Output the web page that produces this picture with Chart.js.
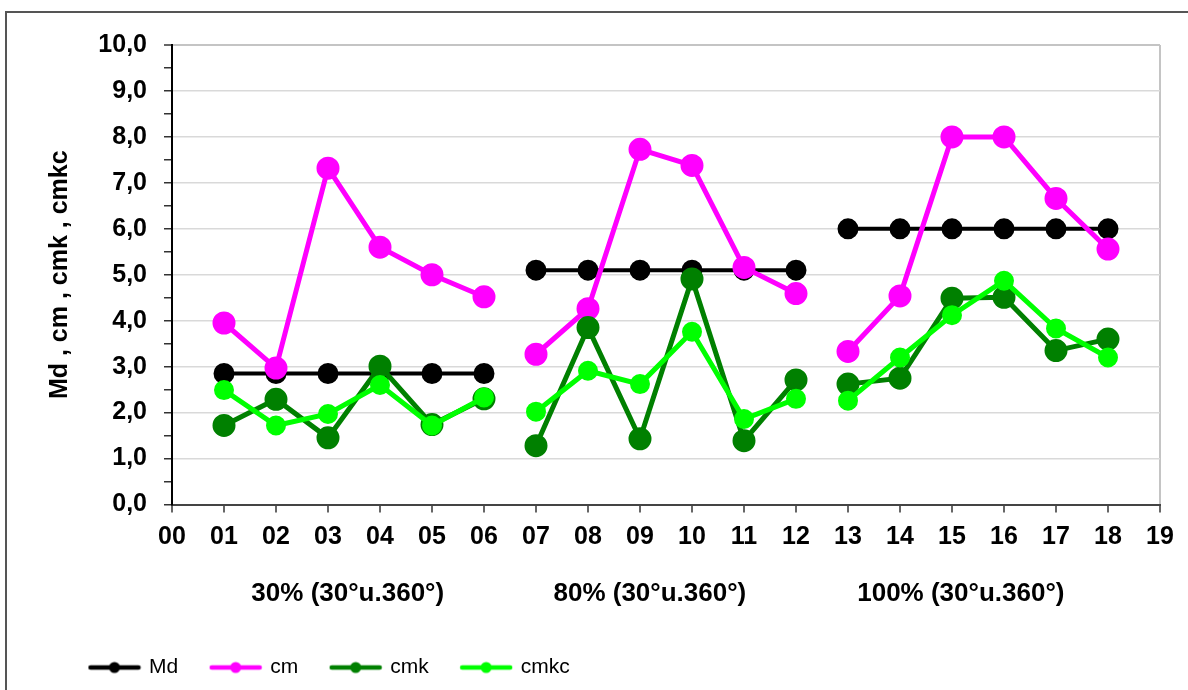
<!DOCTYPE html>
<html>
<head>
<meta charset="utf-8">
<script src="https://cdn.jsdelivr.net/npm/chart.js@4.4.0/dist/chart.umd.min.js"></script>
<style>
  body { margin: 0; background: #fff; }
  #frame { position: absolute; left: 5px; top: 11px; width: 1300px; height: 800px;
           border-top: 2px solid #555; border-left: 2px solid #555; }
  #wrap { position: absolute; left: 0; top: 0; width: 1188px; height: 690px; }
</style>
</head>
<body>
<div id="frame"></div>
<div id="wrap"><canvas id="chart"></canvas></div>
<script>
// tick labels of the x axis (00 .. 19)
var categories = ['00','01','02','03','04','05','06','07','08','09','10',
                  '11','12','13','14','15','16','17','18','19'];

// values for 01 .. 18
var md   = [2.85, 2.85, 2.85, 2.85, 2.85, 2.85, 5.1, 5.1, 5.1, 5.1, 5.1, 5.1, 6.0, 6.0, 6.0, 6.0, 6.0, 6.0];
var cm   = [3.95, 2.97, 7.32, 5.6, 5.0, 4.52, 3.27, 4.26, 7.73, 7.38, 5.16, 4.59, 3.33, 4.54, 8.0, 8.0, 6.66, 5.56];
var cmk  = [1.72, 2.29, 1.45, 3.01, 1.74, 2.3, 1.28, 3.85, 1.43, 4.91, 1.39, 2.71, 2.62, 2.75, 4.49, 4.51, 3.35, 3.6];
var cmkc = [2.49, 1.72, 1.97, 2.6, 1.72, 2.33, 2.02, 2.91, 2.62, 3.76, 1.86, 2.3, 2.26, 3.2, 4.12, 4.87, 3.83, 3.2];

var groupLabels  = ['30% (30°u.360°)', '80% (30°u.360°)', '100% (30°u.360°)'];
var groupCenters = [3.38, 9.19, 15.17];
var groupBreaks  = [6, 12];   // no line from 06 to 07 and from 12 to 13

var FONT = "'Liberation Sans', Arial, sans-serif";

// put the 18 values on positions 01..18, nothing on 00 and 19
const pad = (vals) => [null].concat(vals, [null]);

const legendIcon = (color, r) => {
    var c = document.createElement('canvas');
    c.width = 54; c.height = 20;
    var g = c.getContext('2d');
    g.strokeStyle = color; g.lineWidth = 4.5; g.lineCap = 'round';
    g.beginPath(); g.moveTo(3, 10); g.lineTo(51, 10); g.stroke();
    g.fillStyle = color;
    g.beginPath(); g.arc(27, 10, r, 0, Math.PI * 2); g.fill();
    return c;
}

const makeSet = (label, data, color, radius, width, order) => {
    return {
        label: label,
        data: pad(data),
        borderColor: color,
        backgroundColor: color,
        pointBackgroundColor: color,
        pointBorderColor: color,
        pointRadius: radius,
        pointHoverRadius: radius,
        borderWidth: width,
        order: order,
        spanGaps: false,
        segment: {
            borderColor: ctx => groupBreaks.includes(ctx.p0DataIndex) ? 'transparent' : color
        },
        icon: legendIcon(color, 5.5)
    }
}

const groupTitles = {
    id: 'groupTitles',
    afterDraw(chart) {
        var x = chart.scales.x;
        var c = chart.ctx;
        c.save();
        c.font = 'bold 26px ' + FONT;
        c.fillStyle = '#000';
        c.textAlign = 'center';
        c.textBaseline = 'middle';
        groupLabels.forEach(function (txt, i) {
            c.fillText(txt, x.getPixelForValue(groupCenters[i]), chart.chartArea.bottom + 89);
        });
        c.restore();
    }
}

new Chart(document.getElementById('chart'), {
    type: 'line',
    data: {
        labels: categories,
        datasets: [
            makeSet('Md', md, '#000000', 8.5, 4, 4),
            makeSet('cm', cm, '#FF00FF', 9, 5, 3),
            makeSet('cmk', cmk, '#008000', 9, 5, 2),
            makeSet('cmkc', cmkc, '#00FF00', 7.5, 5, 1)
        ]
    },
    plugins: [groupTitles],
    options: {
        responsive: true,
        maintainAspectRatio: false,
        animation: false,
        layout: { padding: { left: 57, right: 28, top: 45, bottom: 2 } },
        scales: {
            x: {
                offset: false,
                afterFit: (s) => { s.height = 119; },
                grid: {
                    drawOnChartArea: true,
                    color: ctx => ctx.index === categories.length - 1 ? '#c4c4c4' : 'transparent',
                    lineWidth: 2,
                    tickColor: '#333',
                    tickLength: 8,
                    tickWidth: 1.5
                },
                border: { color: '#444', width: 2 },
                ticks: {
                    autoSkip: false,
                    maxRotation: 0,
                    padding: 10,
                    color: '#000',
                    font: { family: FONT, size: 25, weight: 'bold' }
                }
            },
            y: {
                min: 0,
                max: 10,
                afterFit: (s) => { s.width = 172 - 57; },
                grid: {
                    color: ctx => Number.isInteger(ctx.tick.value) ? (ctx.tick.value === 10 ? '#c4c4c4' : '#d9d9d9') : 'transparent',
                    lineWidth: ctx => ctx.tick.value === 10 ? 2 : 1.5,
                    tickColor: '#333',
                    tickLength: 8,
                    tickWidth: 1.5
                },
                border: { color: '#000', width: 2 },
                ticks: {
                    stepSize: 0.5,
                    autoSkip: false,
                    padding: 17,
                    color: '#000',
                    font: { family: FONT, size: 25, weight: 'bold' },
                    callback: (v) => Number.isInteger(v) ? v.toFixed(1).replace('.', ',') : ''
                },
                title: {
                    display: true,
                    text: 'Md , cm , cmk , cmkc',
                    color: '#000',
                    padding: { top: -12, bottom: 0 },
                    font: { family: FONT, size: 25, weight: 'bold' }
                }
            }
        },
        plugins: {
            tooltip: { enabled: false },
            legend: {
                position: 'bottom',
                align: 'start',
                labels: {
                    usePointStyle: true,
                    pointStyleWidth: 48,
                    padding: 33.5,
                    color: '#000',
                    font: { family: FONT, size: 21 },
                    sort: (a, b) => a.datasetIndex - b.datasetIndex,
                    generateLabels: (chart) => {
                        var items = Chart.defaults.plugins.legend.labels.generateLabels(chart);
                        items.forEach(function (it) {
                            it.pointStyle = chart.data.datasets[it.datasetIndex].icon;
                        });
                        return items;
                    }
                }
            }
        }
    }
});
</script>
</body>
</html>
